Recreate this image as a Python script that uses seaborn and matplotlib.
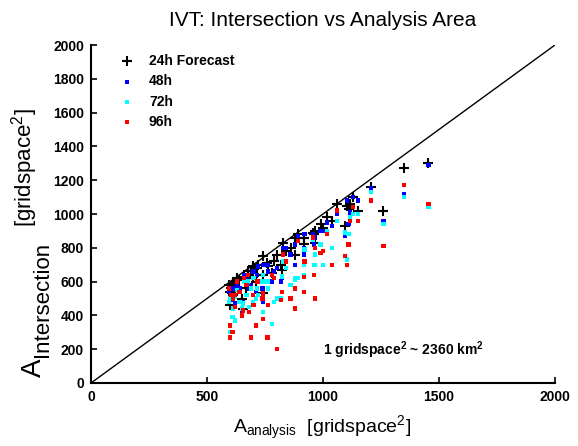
import matplotlib
matplotlib.use("Agg")
import matplotlib.pyplot as plt
import seaborn as sns
import pandas as pd

# analysis area per case (same for every lead time) and intersection per lead time
analysis = [1454, 1350, 1260, 1208, 1130, 1117, 1096, 1061, 1104, 1040,
            1000, 960, 1018, 966, 958, 893, 828, 824, 860, 781,
            742, 742, 716, 699, 677, 656, 630, 600, 600, 612,
            620, 640, 660, 690, 700, 720, 760, 802, 764, 840,
            880, 920, 990, 1110, 1150, 650, 620, 680, 740, 790,
            610, 670, 710, 880, 820, 919, 919, 966, 596, 605]
h24 = [1300, 1270, 1020, 1160, 1100, 1060, 930, 1060, 1050, 960,
       920, 880, 980, 830, 890, 880, 830, 670, 800, 650,
       750, 530, 680, 630, 660, 440, 620, 540, 460, 600,
       580, 610, 630, 660, 690, 700, 710, 760, 690, 780,
       860, 860, 940, 1030, 1020, 500, 560, 620, 640, 720,
       520, 560, 600, 760, 700, 860, 820, 900, 580, 560]
h48 = [1290, 1120, 960, 1150, 1100, 1010, 870, 1000, 1080, 930,
       900, 820, 950, 860, 880, 870, 800, 620, 760, 600,
       700, 480, 640, 660, 600, 480, 570, 560, 500, 560,
       520, 560, 640, 580, 660, 690, 700, 680, 660, 800,
       820, 880, 900, 940, 1080, 420, 470, 560, 560, 660,
       490, 620, 540, 700, 600, 800, 760, 860, 540, 520]
h72 = [1040, 1100, 940, 1130, 1000, 980, 890, 960, 730, 800,
       700, 700, 900, 760, 850, 620, 720, 630, 580, 350,
       640, 420, 560, 480, 600, 470, 550, 500, 300, 440,
       510, 480, 600, 560, 620, 520, 600, 500, 560, 680,
       620, 790, 820, 880, 1000, 440, 370, 450, 600, 480,
       390, 520, 500, 610, 500, 700, 640, 700, 480, 500]
h96 = [1060, 1170, 810, 1080, 1040, 960, 750, 1020, 700, 700,
       780, 640, 880, 800, 860, 840, 760, 540, 500, 640,
       530, 380, 600, 520, 640, 430, 600, 270, 340, 500,
       450, 540, 620, 270, 460, 600, 270, 200, 460, 720,
       440, 720, 770, 820, 960, 400, 520, 420, 500, 620,
       300, 580, 340, 560, 490, 538, 627, 500, 560, 520]

df = pd.DataFrame({"analysis": analysis, "24h Forecast": h24, "48h": h48,
                   "72h": h72, "96h": h96})

sns.set_style("white")
plt.rcParams["font.family"] = ["Liberation Sans", "DejaVu Sans"]
plt.rcParams["mathtext.fontset"] = "custom"
plt.rcParams["mathtext.rm"] = "Liberation Sans"
plt.rcParams["mathtext.it"] = "Liberation Sans"
plt.rcParams["mathtext.bf"] = "Liberation Sans:bold"
for key in ["text.color", "axes.labelcolor", "xtick.color", "ytick.color"]:
    plt.rcParams[key] = "black"

W, H = 578, 446
fig = plt.figure(figsize=(W / 100, H / 100), dpi=100)
ax = fig.add_axes([91 / W, 1 - 383 / H, 464 / W, 338 / H])

# 1:1 line
ax.plot([0, 2000], [0, 2000], color="black", linewidth=1, zorder=1)

sns.scatterplot(data=df, x="analysis", y="24h Forecast", marker="+", s=55,
                color="black", linewidth=1.5, ax=ax, label="24h Forecast", zorder=2)
series = [("48h", "#0000ff"), ("72h", "#00ffff"), ("96h", "#ff0000")]
for name, col in series:
    sns.scatterplot(data=df, x="analysis", y=name, marker="s", s=10,
                    color=col, edgecolor="none", ax=ax, label=name, zorder=3)

ax.set_xlim(0, 2000)
ax.set_ylim(0, 2000)
ax.set_xticks([0, 500, 1000, 1500, 2000])
ax.set_yticks(range(0, 2001, 200))
ax.tick_params(direction="in", length=4, width=1.2, labelsize=10,
               left=True, bottom=True, pad=5)
for lab in ax.get_xticklabels() + ax.get_yticklabels():
    lab.set_fontweight("bold")
for side in ["top", "right"]:
    ax.spines[side].set_visible(False)
for side in ["left", "bottom"]:
    ax.spines[side].set_color("black")
    ax.spines[side].set_linewidth(1.5)
ax.set_xlabel("")
ax.set_ylabel("")

ax.set_title("IVT: Intersection vs Analysis Area", fontsize=15, pad=14)

# x label
fig.text(322 / W, 1 - 433 / H,
         r"$\mathregular{A_{analysis}}$  [gridspace$^\mathregular{2}$]",
         fontsize=14, ha="center", va="baseline")

# y label, drawn in pieces to follow the wide spacing of the original
fig.text(34 / W, 1 - 368 / H, "A", fontsize=20, rotation=90,
         ha="center", va="center")
fig.text(42 / W, 1 - 299 / H, "Intersection", fontsize=16, rotation=90,
         ha="center", va="center")
fig.text(25 / W, 1 - 168 / H, r"[gridspace$^\mathregular{2}$]", fontsize=16,
         rotation=90, ha="center", va="center")

ax.text(1000, 195, r"1 gridspace$^\mathregular{2}$ ~ 2360 km$^\mathregular{2}$",
        fontsize=10, fontweight="bold", va="center", ha="left")

leg = ax.legend(loc="upper left", bbox_to_anchor=(0.02, 1.01), frameon=False,
                fontsize=10, handletextpad=0.6, labelspacing=0.45,
                markerscale=0.9)
for t in leg.get_texts():
    t.set_fontweight("bold")

fig.savefig("out.png", dpi=100)
